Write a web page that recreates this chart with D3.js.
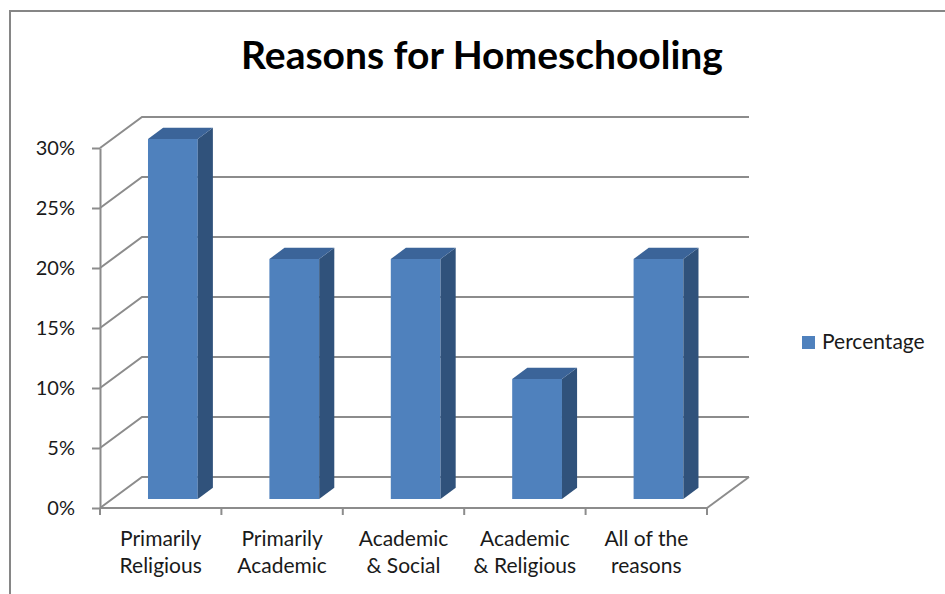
<!DOCTYPE html>
<html>
  <head>
    <meta charset="utf-8" />
    <style>
      body { margin: 0; background: #fff; }
      svg { display: block; font-family: Lato, "Open Sans", sans-serif; }
    </style>
  </head>
  <body>
    <svg id="chart"></svg>
    <script src="https://cdn.jsdelivr.net/npm/d3@7"></script>
    <script>
      const categories = [
        "Primarily Religious",
        "Primarily Academic",
        "Academic & Social",
        "Academic & Religious",
        "All of the reasons",
      ];
      const labelLines = [
        ["Primarily", "Religious"],
        ["Primarily", "Academic"],
        ["Academic", "& Social"],
        ["Academic", "& Religious"],
        ["All of the", "reasons"],
      ];
      const percentages = [0.30, 0.20, 0.20, 0.10, 0.20];
      const yTicks = [0, 0.05, 0.10, 0.15, 0.20, 0.25, 0.30];
      const seriesName = "Percentage";

      const data = categories.map((c, i) => ({ name: c, value: percentages[i], lines: labelLines[i] }));

      const width = 945;
      const height = 594;
      const marginLeft = 100;
      const plotRight = 707;
      const floorY = 508;
      const topY = 148;
      // 3D depth offset of the back wall
      const depthX = 42;
      const depthY = -31;
      const barFront = 0.29;
      const barBack = 0.65;
      const barWidthRatio = 0.41;

      const gridColor = "#8c8c8c";
      const textColor = "#1a1a1a";

      const svg = d3.select("#chart")
        .attr("width", width)
        .attr("height", height)
        .attr("viewBox", [0, 0, width, height]);

      // outer frame (only top and left edges visible)
      svg.append("path")
        .attr("d", `M10,${height + 5}V11H${width + 5}`)
        .attr("fill", "none")
        .attr("stroke", "#868686")
        .attr("stroke-width", 2);

      // title
      svg.append("text")
        .attr("x", 482)
        .attr("y", 69)
        .attr("text-anchor", "middle")
        .attr("font-size", 39)
        .attr("font-weight", "bold")
        .attr("fill", "#000")
        .text("Reasons for Homeschooling");

      const x = d3.scaleBand()
        .domain(categories)
        .range([marginLeft, plotRight])
        .padding(0);

      const y = d3.scaleLinear()
        .domain([0, 0.30])
        .range([floorY, topY]);

      // back wall gridlines and side wall diagonals
      const grid = svg.append("g")
        .attr("stroke", gridColor)
        .attr("stroke-width", 2)
        .attr("fill", "none");

      grid.selectAll("path.wall")
        .data(yTicks)
        .join("path")
        .attr("class", "wall")
        .attr("d", (t) => `M${marginLeft},${y(t)}L${marginLeft + depthX},${y(t) + depthY}H${plotRight + depthX}`);

      // floor right edge
      grid.append("path")
        .attr("d", `M${plotRight},${floorY}L${plotRight + depthX},${floorY + depthY}`);

      // y axis
      svg.append("g")
        .attr("transform", `translate(${marginLeft},0)`)
        .call(d3.axisLeft(y).tickValues(yTicks).tickFormat(d3.format(".0%")).tickSize(8).tickSizeOuter(0).tickPadding(17))
        .call((g) => g.select(".domain").attr("stroke", gridColor).attr("stroke-width", 2))
        .call((g) => g.selectAll(".tick line").attr("stroke", gridColor).attr("stroke-width", 2))
        .call((g) => g.selectAll(".tick text").attr("font-size", 20).attr("fill", textColor).attr("font-family", "Lato, sans-serif"));

      // x axis: floor front line plus ticks between categories
      const xAxis = svg.append("g");
      xAxis.append("line")
        .attr("x1", marginLeft).attr("x2", plotRight)
        .attr("y1", floorY).attr("y2", floorY)
        .attr("stroke", gridColor).attr("stroke-width", 2);

      const boundaries = categories.map((c) => x(c)).concat([x(categories[categories.length - 1]) + x.bandwidth()]);
      xAxis.selectAll("line.tick")
        .data(boundaries)
        .join("line")
        .attr("class", "tick")
        .attr("x1", (d) => d).attr("x2", (d) => d)
        .attr("y1", floorY).attr("y2", floorY + 7)
        .attr("stroke", gridColor).attr("stroke-width", 2);

      xAxis.selectAll("text")
        .data(data)
        .join("text")
        .attr("text-anchor", "middle")
        .attr("font-size", 21)
        .attr("fill", textColor)
        .attr("transform", (d) => `translate(${x(d.name) + x.bandwidth() / 2},0)`)
        .selectAll("tspan")
        .data((d) => d.lines)
        .join("tspan")
        .attr("x", 0)
        .attr("y", (d, i) => 546 + i * 27)
        .text((d) => d);

      // bars
      const bw = x.bandwidth() * barWidthRatio;
      const ddx = (barBack - barFront) * depthX;
      const ddy = (barBack - barFront) * depthY;

      const bars = svg.append("g")
        .selectAll("g")
        .data(data)
        .join("g");

      const x0 = (d) => x(d.name) + (x.bandwidth() - bw) / 2 + barFront * depthX;
      const yTop = (d) => y(d.value) + barFront * depthY;
      const yBot = () => y(0) + barFront * depthY;

      bars.append("rect")
        .attr("x", x0)
        .attr("y", yTop)
        .attr("width", bw)
        .attr("height", (d) => yBot() - yTop(d))
        .attr("fill", "#4f81bd");

      bars.append("path")
        .attr("fill", "#30527b")
        .attr("d", (d) => {
          const x1 = x0(d) + bw;
          return `M${x1},${yTop(d)}L${x1 + ddx},${yTop(d) + ddy}L${x1 + ddx},${yBot() + ddy}L${x1},${yBot()}Z`;
        });

      bars.append("path")
        .attr("fill", "#3b6499")
        .attr("d", (d) => {
          const xa = x0(d);
          const x1 = xa + bw;
          const t = yTop(d);
          return `M${xa},${t}L${xa + ddx},${t + ddy}L${x1 + ddx},${t + ddy}L${x1},${t}Z`;
        });

      // legend
      const legend = svg.append("g").attr("transform", "translate(802,336)");
      legend.append("rect")
        .attr("width", 13)
        .attr("height", 13)
        .attr("fill", "#4f81bd");
      legend.append("text")
        .attr("x", 20)
        .attr("y", 13)
        .attr("font-size", 21)
        .attr("fill", textColor)
        .text(seriesName);
    </script>
  </body>
</html>
